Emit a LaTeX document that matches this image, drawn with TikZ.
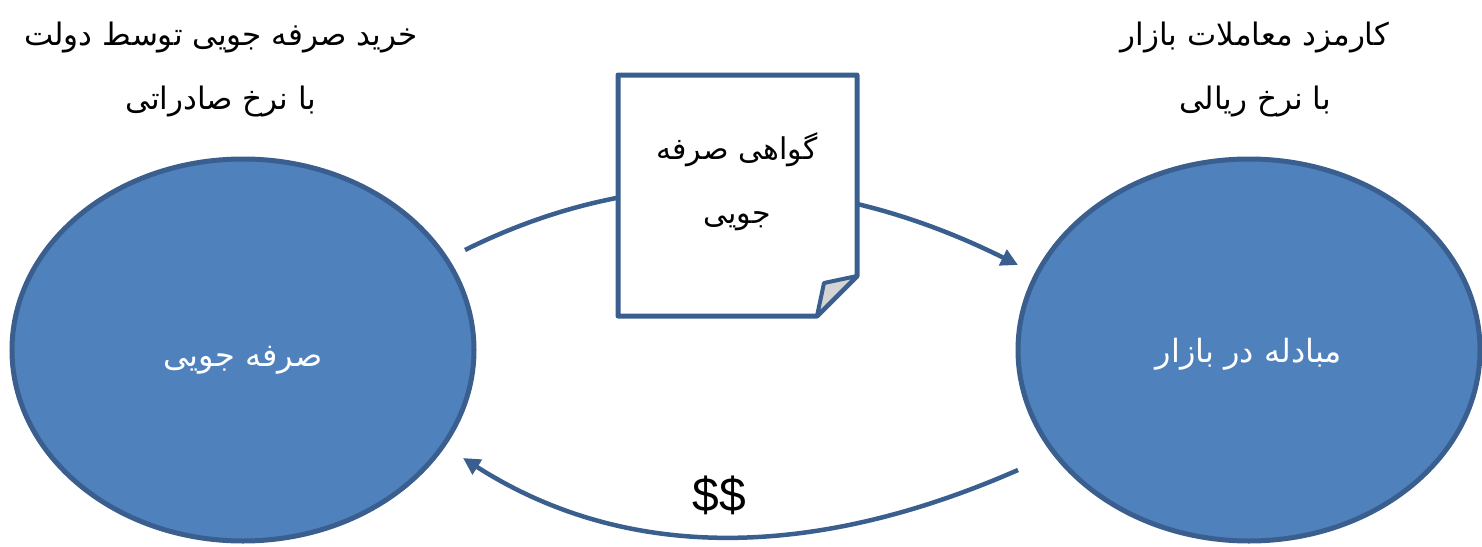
\documentclass[tikz,border=0pt]{standalone}
\usepackage{fontspec}
\usetikzlibrary{shapes.geometric,arrows.meta}
\TeXXeTstate=1
\newfontfamily\arabicfont[Script=Arabic]{DejaVu Sans}
\newfontfamily\latinsans{Liberation Sans}
\definecolor{ellfill}{HTML}{4F81BD}
\definecolor{ellline}{HTML}{3A5F8E}
\definecolor{foldgray}{HTML}{D4D4D4}
\tikzset{
  bubble/.style={ellipse, draw=ellline, fill=ellfill, line width=5pt,
    minimum width=462pt, minimum height=382pt},
  bubbletext/.style={text=white, font=\arabicfont\fontsize{32}{40}\selectfont},
  header/.style={align=center, font=\arabicfont\fontsize{31}{64}\selectfont},
  notetext/.style={align=center, font=\arabicfont\fontsize{30}{64}\selectfont},
  conn/.style={draw=ellline, line width=4.5pt, -{Triangle[length=17pt,width=17pt]}},
  notebox/.style={draw=ellline, fill=white, line width=5pt, line join=round},
  foldbox/.style={draw=ellline, fill=foldgray, line width=4pt, line join=round}
}
\begin{document}
\begin{tikzpicture}[x=1pt,y=-1pt]
\useasboundingbox (0,0) rectangle (1482,546);
% ellipses
\node[bubble] (left) at (243,350) {};
\node[bubble] (right) at (1249,350) {};
\node[bubbletext] (lefttext) at (243,360) {\beginR صرفه جویی\endR};
\node[bubbletext] (righttext) at (1249,354) {\beginR مبادله در بازار\endR};
% connector endpoints
\coordinate (a1) at (465,250);
\coordinate (a2) at (1018,265);
\coordinate (b1) at (1018,470);
\coordinate (b2) at (463,458);
% connectors
\draw[conn] (a1) .. controls (646,160) and (831,172) .. (a2);
\draw[conn] (b1) .. controls (806,563) and (621,559) .. (b2);
% note
\coordinate (n1) at (618,75);
\coordinate (n2) at (857,75);
\coordinate (n3) at (857,276);
\coordinate (n4) at (817,316);
\coordinate (n5) at (618,316);
\coordinate (nf) at (824,283);
\draw[notebox] (n1) -- (n2) -- (n3) -- (n4) -- (n5) -- cycle;
\draw[foldbox] (n3) -- (nf) -- (n4) -- cycle;
\node[notetext] (note) at (737,182) {\beginR گواهی صرفه\endR\\\beginR جویی\endR};
% headers
\node[header] (lefthead) at (221,70) {\beginR خرید صرفه جویی توسط دولت\endR\\\beginR با نرخ صادراتی\endR};
\node[header] (righthead) at (1255,70) {\beginR کارمزد معاملات بازار\endR\\\beginR با نرخ ریالی\endR};
% money label
\node[font=\latinsans\fontsize{48}{54}\selectfont] (money) at (719,495) {\$\$};
\end{tikzpicture}
\end{document}
